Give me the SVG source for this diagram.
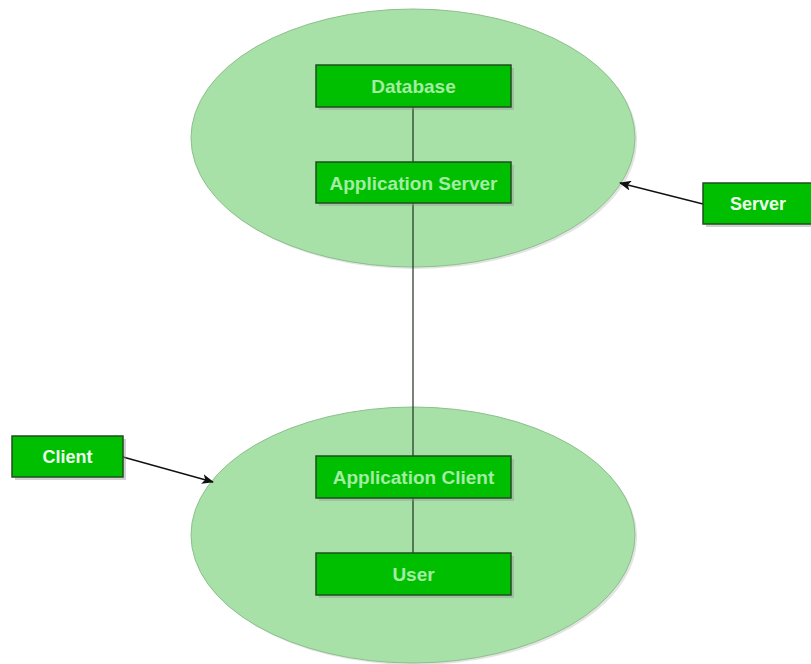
<svg xmlns="http://www.w3.org/2000/svg" width="811" height="664" viewBox="0 0 811 664">
<style>
.ell{fill:#a7e1a7;stroke:#8cc08c;stroke-width:1}
.box{fill:#00bf00;stroke:#1e4f1e;stroke-width:1.5}
.shadow{fill:#9a9a9a;opacity:0.45}
.lbl{font-family:"Liberation Sans",Arial,sans-serif;font-weight:bold;font-size:19px;text-anchor:middle;fill:#a4eca4}
.lbl2{font-family:"Liberation Sans",Arial,sans-serif;font-weight:bold;font-size:18px;text-anchor:middle;fill:#ecffec}
.conn{stroke:#1f2f1f;stroke-width:1.2;fill:none}
.arr{stroke:#111;stroke-width:1.3;fill:none}
</style>
<defs>
<marker id="ah" viewBox="0 0 12 10" refX="11" refY="5" markerWidth="12" markerHeight="10" markerUnits="userSpaceOnUse" orient="auto">
<path d="M0,0 L12,5 L0,10 L3,5 Z" fill="#111"/>
</marker>
</defs>
<rect width="811" height="664" fill="#ffffff"/>
<g id="server-ellipse">
<ellipse cx="415" cy="140" rx="222" ry="129" fill="#c8c8c8" opacity="0.5"/>
<ellipse class="ell" cx="413" cy="138" rx="222" ry="129"/>
</g>
<g id="client-ellipse">
<ellipse cx="415" cy="537" rx="222" ry="128" fill="#c8c8c8" opacity="0.5"/>
<ellipse class="ell" cx="413" cy="535" rx="222" ry="128"/>
</g>
<g id="connectors">
<line class="conn" x1="413" y1="107" x2="413" y2="162"/>
<line class="conn" x1="413" y1="203" x2="413" y2="456"/>
<line class="conn" x1="413" y1="498" x2="413" y2="553"/>
<line class="arr" x1="703" y1="204" x2="620" y2="183" marker-end="url(#ah)"/>
<line class="arr" x1="123" y1="457" x2="213" y2="482" marker-end="url(#ah)"/>
</g>
<g id="database">
<rect class="shadow" x="319" y="68" width="195" height="42"/>
<rect class="box" x="316" y="65" width="195" height="42"/>
<text class="lbl" x="413.5" y="93">Database</text>
</g>
<g id="app-server">
<rect class="shadow" x="319" y="165" width="195" height="41"/>
<rect class="box" x="316" y="162" width="195" height="41"/>
<text class="lbl" x="413.5" y="189.5">Application Server</text>
</g>
<g id="app-client">
<rect class="shadow" x="319" y="459" width="195" height="42"/>
<rect class="box" x="316" y="456" width="195" height="42"/>
<text class="lbl" x="413.5" y="484">Application Client</text>
</g>
<g id="user">
<rect class="shadow" x="319" y="556" width="195" height="42"/>
<rect class="box" x="316" y="553" width="195" height="42"/>
<text class="lbl" x="413.5" y="581">User</text>
</g>
<g id="server">
<rect class="shadow" x="706" y="186" width="108" height="41"/>
<rect class="box" x="703" y="183" width="110" height="41"/>
<text class="lbl2" x="758" y="210">Server</text>
</g>
<g id="client">
<rect class="shadow" x="15" y="439" width="111" height="41"/>
<rect class="box" x="12" y="436" width="111" height="41"/>
<text class="lbl2" x="67.5" y="463">Client</text>
</g>
</svg>
